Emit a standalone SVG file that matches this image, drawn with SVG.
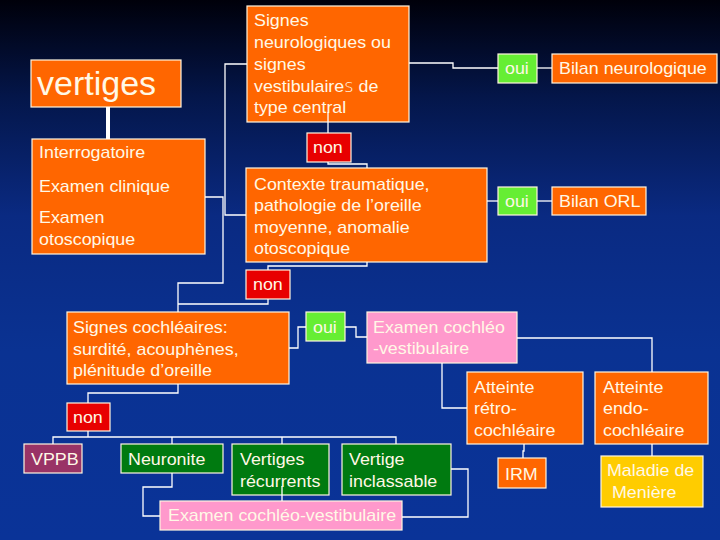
<svg xmlns="http://www.w3.org/2000/svg" width="720" height="540" viewBox="0 0 720 540">
<defs>
<linearGradient id="bg" x1="0" y1="0" x2="0" y2="1">
<stop offset="0" stop-color="#00000a"/>
<stop offset="0.18" stop-color="#04164a"/>
<stop offset="0.4" stop-color="#0a2a82"/>
<stop offset="0.65" stop-color="#0a3292"/>
<stop offset="1" stop-color="#0a3398"/>
</linearGradient>
<style>
.b{stroke:#fff6e0;stroke-width:1.2}
.or{fill:#ff6600}
.red{fill:#e80000}
.lg{fill:#66ee33}
.pk{fill:#ff99cc}
.dg{fill:#007a10}
.pu{fill:#993366}
.ye{fill:#ffcc00}
text{font-family:"Liberation Sans",Arial,sans-serif;font-size:17px;fill:#fff8e6;transform-box:fill-box;transform-origin:0 50%;transform:scaleX(1.05)}
text.big{font-size:34px;transform:none}
.c{fill:none;stroke:#ffffff;stroke-width:1.3}
</style>
</defs>
<rect width="720" height="540" fill="url(#bg)"/>

<g id="vertiges"><rect class="b or" x="31" y="60" width="150" height="47"/><text class="big" x="37" y="95">vertiges</text></g>
<g id="interrogatoire"><rect class="b or" x="32" y="139" width="173" height="115"/>
<text x="39" y="158">Interrogatoire</text><text x="39" y="192">Examen clinique</text><text x="39" y="223">Examen</text><text x="39" y="245">otoscopique</text></g>
<g id="signes-neuro"><rect class="b or" x="247" y="6" width="162" height="116"/>
<text x="254" y="26">Signes</text><text x="254" y="48">neurologiques ou</text><text x="254" y="70">signes</text><text x="254" y="92">vestibulaire<tspan style="font-family:'DejaVu Sans';font-weight:200">s</tspan> de</text><text x="254" y="113">type central</text></g>
<g id="oui1"><rect class="b lg" x="498" y="54" width="39" height="29"/><text x="505" y="74">oui</text></g>
<g id="bilan-neuro"><rect class="b or" x="552" y="54" width="165" height="29"/><text x="559" y="74">Bilan neurologique</text></g>
<g id="non1"><rect class="b red" x="307" y="133" width="44" height="29"/><text x="313" y="153">non</text></g>
<g id="contexte"><rect class="b or" x="246" y="168" width="241" height="94"/>
<text x="254" y="190">Contexte traumatique,</text><text x="254" y="211">pathologie de l’oreille</text><text x="254" y="233">moyenne, anomalie</text><text x="254" y="254">otoscopique</text></g>
<g id="oui2"><rect class="b lg" x="498" y="187" width="39" height="28"/><text x="505" y="207">oui</text></g>
<g id="bilan-orl"><rect class="b or" x="552" y="187" width="94" height="28"/><text x="559" y="207">Bilan ORL</text></g>
<g id="non2"><rect class="b red" x="246" y="270" width="44" height="29"/><text x="253" y="290">non</text></g>
<g id="signes-cochleaires"><rect class="b or" x="67" y="312" width="222" height="72"/>
<text x="73" y="333">Signes cochléaires:</text><text x="73" y="355">surdité, acouphènes,</text><text x="73" y="376">plénitude d’oreille</text></g>
<g id="oui3"><rect class="b lg" x="306" y="312" width="39" height="29"/><text x="313" y="333">oui</text></g>
<g id="examen-cv1"><rect class="b pk" x="367" y="312" width="150" height="51"/>
<text x="373" y="333">Examen cochléo</text><text x="373" y="354">-vestibulaire</text></g>
<g id="atteinte-retro"><rect class="b or" x="467" y="372" width="116" height="72"/>
<text x="474" y="393">Atteinte</text><text x="474" y="414">rétro-</text><text x="474" y="436">cochléaire</text></g>
<g id="atteinte-endo"><rect class="b or" x="595" y="372" width="113" height="72"/>
<text x="603" y="393">Atteinte</text><text x="603" y="414">endo-</text><text x="603" y="436">cochléaire</text></g>
<g id="irm"><rect class="b or" x="498" y="458" width="48" height="30"/><text x="505" y="480">IRM</text></g>
<g id="meniere"><rect class="b ye" x="601" y="456" width="102" height="51"/>
<text x="607" y="476">Maladie de</text><text x="612" y="498">Menière</text></g>
<g id="non3"><rect class="b red" x="67" y="403" width="43" height="28"/><text x="73" y="423">non</text></g>
<g id="vppb"><rect class="b pu" x="24" y="444" width="58" height="29"/><text x="31" y="465">VPPB</text></g>
<g id="neuronite"><rect class="b dg" x="121" y="444" width="102" height="29"/><text x="128" y="465">Neuronite</text></g>
<g id="vertiges-recurrents"><rect class="b dg" x="232" y="444" width="97" height="51"/>
<text x="240" y="465">Vertiges</text><text x="240" y="487">récurrents</text></g>
<g id="vertige-inclassable"><rect class="b dg" x="342" y="444" width="109" height="51"/>
<text x="349" y="465">Vertige</text><text x="349" y="487">inclassable</text></g>
<g id="examen-cv2"><rect class="b pk" x="160" y="501" width="242" height="29"/><text x="168" y="521">Examen cochléo-vestibulaire</text></g>

<g id="connectors">
<line x1="108" y1="107" x2="108" y2="139" stroke="#ffffff" stroke-width="4"/>
<polyline class="c" points="205,197 223,197 223,283 178,283 178,312"/>
<polyline class="c" points="247,64 225,64 225,215 246,215"/>
<polyline class="c" points="409,63 453,63 453,68 498,68"/>
<line class="c" x1="537" y1="68" x2="552" y2="68"/>
<line class="c" x1="328" y1="112" x2="328" y2="133"/>
<polyline class="c" points="328,162 328,164 367,164 367,168"/>
<line class="c" x1="487" y1="201" x2="498" y2="201"/>
<line class="c" x1="537" y1="201" x2="552" y2="201"/>
<polyline class="c" points="367,262 367,266 268,266 268,270"/>
<polyline class="c" points="268,299 268,304 178,304"/>
<polyline class="c" points="289,348 298,348 298,327 306,327"/>
<polyline class="c" points="345,327 356,327 356,337 367,337"/>
<polyline class="c" points="517,338 652,338 652,372"/>
<polyline class="c" points="442,363 442,408 467,408"/>
<polyline class="c" points="524,444 524,451 523,451 523,458"/>
<line class="c" x1="652" y1="444" x2="652" y2="456"/>
<polyline class="c" points="178,384 178,393 88,393 88,403"/>
<line class="c" x1="88" y1="431" x2="88" y2="437"/>
<polyline class="c" points="53,444 53,437 396,437 396,444"/>
<line class="c" x1="172" y1="437" x2="172" y2="444"/>
<line class="c" x1="282" y1="437" x2="282" y2="444"/>
<polyline class="c" points="172,473 172,487 143,487 143,516 160,516"/>
<line class="c" x1="282" y1="486" x2="282" y2="501"/>
<polyline class="c" points="451,469 468,469 468,517 402,517"/>
</g>
</svg>
